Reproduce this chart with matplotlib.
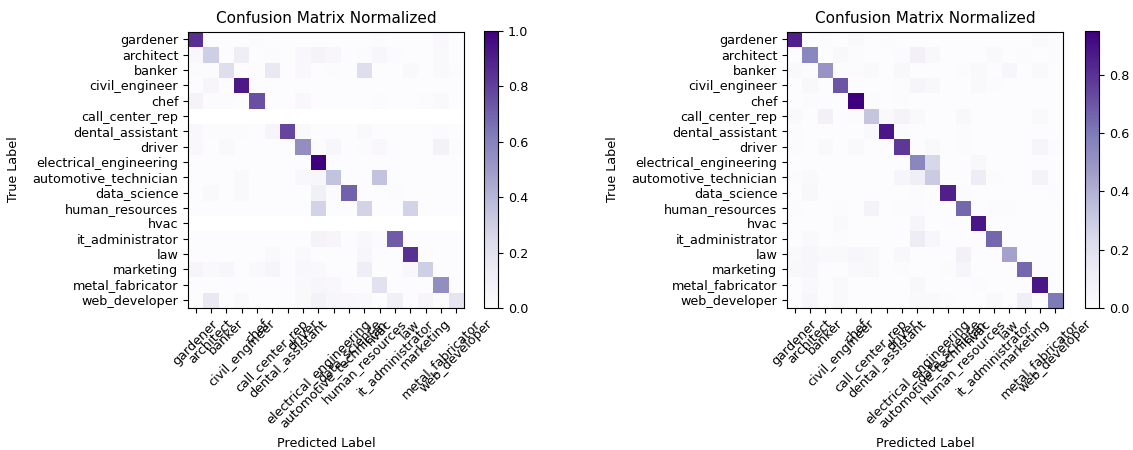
import numpy as np
import matplotlib
matplotlib.use('Agg')
import matplotlib.pyplot as plt

classes = ['gardener', 'architect', 'banker', 'civil_engineer', 'chef',
           'call_center_rep', 'dental_assistant', 'driver',
           'electrical_engineering', 'automotive_technician', 'data_science',
           'human_resources', 'hvac', 'it_administrator', 'law', 'marketing',
           'metal_fabricator', 'web_developer']

nan = np.nan
# left matrix (rows = true label, cols = predicted)
cm_left = [
    [0.85, 0, 0, 0, 0.01, 0, 0, 0, 0, 0, 0, 0, 0.01, 0, 0, 0, 0.03, 0],
    [0.03, 0.30, 0, 0.12, 0, 0.01, 0, 0.03, 0.07, 0.04, 0, 0.01, 0.04, 0.01, 0, 0, 0.02, 0],
    [0.01, 0.01, 0.22, 0, 0, 0.15, 0, 0.03, 0, 0.01, 0, 0.22, 0, 0, 0.02, 0, 0.02, 0.01],
    [0, 0.05, 0, 0.92, 0, 0, 0, 0, 0, 0, 0, 0, 0, 0, 0, 0, 0, 0],
    [0.07, 0.01, 0.01, 0, 0.75, 0, 0, 0.03, 0, 0, 0, 0, 0.01, 0, 0, 0.01, 0.02, 0],
    [nan] * 18,
    [0.03, 0.01, 0.01, 0.01, 0, 0.05, 0.78, 0.02, 0, 0, 0, 0.02, 0, 0, 0, 0, 0.01, 0],
    [0.03, 0, 0.02, 0, 0, 0, 0, 0.55, 0.01, 0.04, 0, 0.01, 0.03, 0, 0, 0, 0.08, 0.01],
    [0, 0, 0, 0, 0, 0, 0, 0, 1.0, 0, 0, 0, 0, 0, 0, 0, 0, 0],
    [0, 0, 0, 0.02, 0, 0, 0, 0.03, 0.04, 0.35, 0, 0, 0.35, 0, 0, 0, 0, 0],
    [0, 0.02, 0, 0.02, 0, 0, 0, 0, 0.10, 0.01, 0.70, 0, 0, 0.01, 0, 0, 0, 0],
    [0, 0, 0, 0, 0, 0, 0, 0, 0.28, 0, 0, 0.28, 0, 0, 0.28, 0, 0, 0],
    [nan] * 18,
    [0, 0, 0, 0, 0, 0, 0, 0, 0.07, 0.05, 0, 0.03, 0.01, 0.72, 0, 0, 0, 0],
    [0, 0, 0, 0, 0, 0.02, 0, 0.02, 0, 0, 0, 0.04, 0, 0, 0.85, 0, 0, 0],
    [0.05, 0.02, 0.04, 0, 0.02, 0.05, 0, 0.03, 0.02, 0, 0, 0.12, 0, 0, 0.03, 0.30, 0, 0],
    [0, 0, 0, 0, 0, 0, 0, 0.02, 0.04, 0.03, 0, 0, 0.20, 0, 0, 0, 0.55, 0],
    [0, 0.15, 0, 0.02, 0, 0, 0, 0.02, 0.08, 0.04, 0.03, 0.02, 0, 0.10, 0, 0.05, 0.01, 0.18],
]

# right matrix
cm_right = [
    [0.85, 0, 0.01, 0, 0.02, 0, 0.01, 0, 0, 0, 0, 0, 0, 0, 0, 0, 0.02, 0.01],
    [0, 0.55, 0, 0.03, 0.01, 0, 0, 0.01, 0.08, 0.03, 0, 0, 0, 0.02, 0, 0.01, 0, 0.01],
    [0.02, 0.01, 0.50, 0.01, 0.01, 0.02, 0, 0.03, 0, 0, 0, 0.01, 0.02, 0, 0.04, 0, 0.02, 0],
    [0, 0.03, 0, 0.70, 0, 0, 0, 0.01, 0.05, 0.03, 0, 0, 0.02, 0.01, 0, 0, 0, 0],
    [0, 0.01, 0, 0, 0.95, 0.01, 0, 0.01, 0, 0, 0, 0, 0, 0, 0, 0, 0, 0],
    [0.02, 0, 0.08, 0, 0.01, 0.32, 0.02, 0.06, 0.02, 0, 0, 0.03, 0, 0, 0, 0, 0.02, 0],
    [0.01, 0, 0, 0, 0, 0.02, 0.88, 0.01, 0, 0, 0, 0.01, 0, 0, 0, 0, 0, 0],
    [0.01, 0, 0.02, 0, 0.02, 0, 0, 0.78, 0, 0.02, 0, 0.01, 0, 0, 0, 0, 0.05, 0.01],
    [0, 0, 0, 0, 0, 0, 0, 0, 0.55, 0.25, 0, 0, 0.03, 0, 0, 0, 0, 0],
    [0.01, 0.02, 0, 0, 0, 0, 0, 0.05, 0.10, 0.30, 0, 0, 0.12, 0.01, 0, 0, 0.06, 0],
    [0, 0.03, 0, 0, 0, 0, 0, 0, 0.01, 0, 0.85, 0.01, 0, 0, 0, 0, 0, 0.01],
    [0.01, 0, 0, 0.01, 0, 0.07, 0, 0.01, 0.01, 0, 0, 0.65, 0, 0.01, 0.01, 0, 0, 0],
    [0, 0, 0, 0.02, 0, 0, 0, 0, 0.05, 0, 0, 0, 0.88, 0, 0, 0, 0, 0],
    [0, 0.02, 0, 0.01, 0, 0, 0, 0, 0.12, 0.04, 0, 0, 0, 0.65, 0, 0, 0, 0],
    [0.02, 0.04, 0.02, 0.02, 0.04, 0.03, 0, 0.03, 0, 0, 0, 0.08, 0, 0, 0.45, 0, 0, 0],
    [0.03, 0.04, 0, 0, 0.02, 0.03, 0, 0.01, 0, 0, 0.01, 0.05, 0, 0, 0, 0.65, 0, 0],
    [0, 0.02, 0, 0.02, 0, 0, 0, 0, 0.03, 0, 0, 0, 0.01, 0, 0, 0, 0.88, 0],
    [0, 0.04, 0, 0.02, 0, 0, 0, 0, 0.02, 0.02, 0.01, 0, 0, 0.02, 0, 0.10, 0, 0.60],
]

W, H = 1133, 450
FS = 9.2  # picture looks like a 100dpi figure shown at ~92%
fig = plt.figure(figsize=(W / 100, H / 100), dpi=100)


def draw(cm, left, cbar_left):
    ax = fig.add_axes([left / W, (H - 308) / H, 276 / W, 277 / H])
    cax = fig.add_axes([cbar_left / W, (H - 308) / H, 14 / W, 277 / H])
    im = ax.imshow(np.array(cm, dtype=float), interpolation='nearest', cmap=plt.cm.Purples)
    ax.set_title('Confusion Matrix Normalized', fontsize=11)
    cb = fig.colorbar(im, cax=cax)
    cb.ax.tick_params(labelsize=FS)
    ticks = np.arange(len(classes))
    ax.set_xticks(ticks)
    ax.set_xticklabels(classes, rotation=45, fontsize=FS)
    ax.set_yticks(ticks)
    ax.set_yticklabels(classes, fontsize=FS)
    ax.set_ylabel('True Label', fontsize=FS)
    ax.set_xlabel('Predicted Label', fontsize=FS)
    ax.yaxis.set_label_coords(-0.61, 0.5)
    ax.xaxis.set_label_coords(0.5, -0.47)


draw(cm_left, 188, 484)
draw(cm_right, 787, 1085)

plt.savefig('out.png', dpi=100)
